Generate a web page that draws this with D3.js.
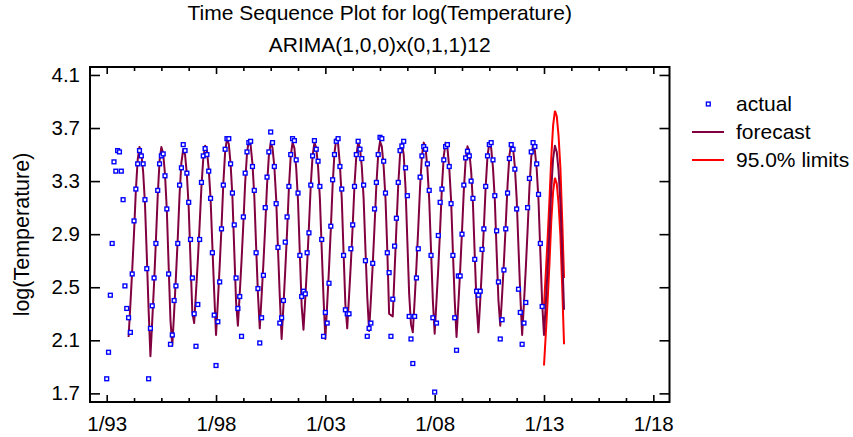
<!DOCTYPE html>
<html>
<head>
<meta charset="utf-8">
<script src="https://cdn.jsdelivr.net/npm/d3@7"></script>
<style>
  body { margin: 0; background: #fff; }
  svg { display: block; font-family: Arial, "Liberation Sans", sans-serif; }
</style>
</head>
<body>
<div id="chart"></div>
<script>
// monthly series, first month = 1/93
const startYear = 1993;

// actual log(Temperature), 1/93 .. 12/12
const actual = [
  1.81, 2.01, 2.44, 2.83, 3.445, 3.375, 3.53, 3.52, 3.375, 3.16, 2.51, 2.34,
  2.27, 2.16, 2.60, 3.00, 3.24, 3.43, 3.53, 3.49, 3.43, 3.16, 2.64, 1.81,
  2.19, 2.36, 2.57, 2.83, 3.23, 3.43, 3.49, 3.505, 3.34, 3.09, 2.60, 2.07,
  2.14, 2.40, 2.51, 2.83, 3.27, 3.40, 3.575, 3.53, 3.36, 3.14, 2.86, 2.57,
  2.30, 2.055, 2.37, 2.86, 3.29, 3.49, 3.545, 3.50, 3.375, 3.17, 2.76, 2.29,
  1.91, 2.24, 2.54, 2.94, 3.27, 3.54, 3.62, 3.62, 3.43, 3.21, 2.97, 2.57,
  2.34, 2.43, 2.13, 3.03, 3.36, 3.52, 3.59, 3.60, 3.41, 3.23, 2.76, 2.49,
  2.08, 2.27, 2.59, 3.10, 3.33, 3.52, 3.67, 3.59, 3.41, 3.13, 2.80, 2.23,
  2.27, 2.40, 2.84, 3.03, 3.26, 3.50, 3.62, 3.605, 3.46, 3.21, 2.74, 2.43,
  2.47, 2.45, 2.76, 2.91, 3.27, 3.49, 3.605, 3.54, 3.45, 3.26, 2.86, 2.13,
  2.31, 2.23, 2.53, 2.96, 3.31, 3.50, 3.60, 3.62, 3.41, 3.24, 2.74, 2.33,
  2.30, 2.30, 2.79, 2.97, 3.26, 3.50, 3.60, 3.54, 3.47, 3.27, 2.70, 2.13,
  2.19, 2.23, 2.68, 3.09, 3.29, 3.50, 3.63, 3.62, 3.45, 3.21, 2.76, 2.61,
  2.13, 2.41, 2.81, 3.02, 3.29, 3.53, 3.565, 3.60, 3.40, 3.19, 2.28, 2.11,
  1.925, 2.28, 2.57, 2.79, 3.33, 3.49, 3.56, 3.54, 3.43, 3.23, 2.74, 2.27,
  1.71, 2.23, 2.89, 3.14, 3.24, 3.46, 3.56, 3.575, 3.41, 3.13, 2.74, 2.27,
  2.025, 2.585, 2.585, 2.90, 3.27, 3.475, 3.525, 3.49, 3.30, 3.17, 2.71, 2.47,
  2.44, 2.47, 2.785, 2.94, 3.26, 3.49, 3.575, 3.59, 3.46, 3.19, 2.925, 2.54,
  2.11, 2.255, 2.63, 2.94, 3.21, 3.47, 3.575, 3.54, 3.39, 3.09, 2.485, 2.31,
  2.07, 2.23, 2.385, 3.10, 3.32, 3.52, 3.59, 3.56, 3.43, 3.20, 2.83, 2.355
];

// forecast, starting at month index 12 (1/94) through 12/13
const forecastStart = 12;
const forecast = [
  2.125, 2.37, 2.63, 2.91, 3.23, 3.46, 3.557, 3.51, 3.37, 3.13, 2.74, 2.33,
  1.98, 2.25, 2.53, 2.85, 3.19, 3.45, 3.557, 3.51, 3.35, 3.08, 2.66, 2.25,
  2.06, 2.31, 2.58, 2.87, 3.20, 3.44, 3.54, 3.50, 3.35, 3.10, 2.70, 2.31,
  2.23, 2.46, 2.70, 2.97, 3.26, 3.47, 3.567, 3.53, 3.39, 3.17, 2.81, 2.46,
  2.14, 2.39, 2.66, 2.95, 3.28, 3.52, 3.62, 3.58, 3.43, 3.18, 2.78, 2.39,
  2.21, 2.45, 2.70, 2.98, 3.29, 3.51, 3.61, 3.57, 3.43, 3.19, 2.81, 2.45,
  2.19, 2.43, 2.68, 2.96, 3.27, 3.49, 3.59, 3.55, 3.41, 3.17, 2.79, 2.43,
  2.11, 2.36, 2.63, 2.92, 3.25, 3.49, 3.59, 3.55, 3.40, 3.15, 2.75, 2.36,
  2.18, 2.42, 2.67, 2.96, 3.27, 3.49, 3.59, 3.55, 3.41, 3.17, 2.79, 2.42,
  2.11, 2.37, 2.64, 2.94, 3.27, 3.51, 3.62, 3.58, 3.42, 3.17, 2.76, 2.37,
  2.19, 2.43, 2.68, 2.96, 3.27, 3.49, 3.59, 3.55, 3.41, 3.17, 2.79, 2.43,
  2.17, 2.41, 2.67, 2.96, 3.27, 3.50, 3.60, 3.56, 3.41, 3.17, 2.78, 2.30,
  2.29, 2.28, 2.62, 2.95, 3.27, 3.50, 3.59, 3.50, 3.25, 2.85, 2.45, 2.22,
  2.16, 2.40, 2.66, 2.95, 3.26, 3.49, 3.59, 3.55, 3.40, 3.16, 2.78, 2.40,
  2.15, 2.40, 2.65, 2.94, 3.26, 3.49, 3.59, 3.55, 3.40, 3.16, 2.77, 2.40,
  2.125, 2.37, 2.63, 2.92, 3.23, 3.46, 3.5625, 3.52, 3.38, 3.13, 2.74, 2.37,
  2.16, 2.40, 2.66, 2.95, 3.26, 3.49, 3.5875, 3.55, 3.40, 3.16, 2.77, 2.40,
  2.21, 2.44, 2.69, 2.97, 3.27, 3.49, 3.5875, 3.55, 3.41, 3.17, 2.80, 2.44,
  2.14, 2.38, 2.64, 2.93, 3.25, 3.48, 3.575, 3.53, 3.39, 3.15, 2.76, 2.38,
  2.14, 2.38, 2.64, 2.93, 3.24, 3.47, 3.567, 3.52, 3.38, 3.14, 2.75, 2.33
];

// 95% limits for the 12 months ahead (1/13 .. 12/13)
const limitStart = 240;
const upper = [2.36, 2.61, 2.87, 3.16, 3.48, 3.72, 3.83, 3.79, 3.64, 3.40, 3.01, 2.57];
const lower = [1.91, 2.15, 2.40, 2.68, 3.00, 3.22, 3.325, 3.28, 3.13, 2.89, 2.50, 2.07];

const xTicks = [1993, 1998, 2003, 2008, 2013, 2018];
const xMinor = [1994.25, 1995.5, 1996.75, 1999.25, 2000.5, 2001.75, 2004.25, 2005.5, 2006.75,
                2009.25, 2010.5, 2011.75, 2014.25, 2015.5, 2016.75];
const yTicks = [1.7, 2.1, 2.5, 2.9, 3.3, 3.7, 4.1];

const legendItems = ["actual", "forecast", "95.0% limits"];

const width = 853, height = 437;
const margin = { top: 67, right: 183.5, bottom: 35, left: 90 };
const pw = width - margin.left - margin.right,
      ph = height - margin.top - margin.bottom;

const svg = d3.select("#chart").append("svg")
    .attr("width", width)
    .attr("height", height);

const g = svg.append("g")
    .attr("transform", `translate(${margin.left},${margin.top})`);

const x = d3.scaleLinear().domain([1992.236, 2018.74]).range([0, pw]);
const y = d3.scaleLinear().domain([1.635, 4.16]).range([ph, 0]);

const t = i => startYear + i / 12;

// titles
svg.append("text")
    .attr("x", margin.left + pw / 2).attr("y", 20)
    .attr("text-anchor", "middle").attr("font-size", 21)
    .text("Time Sequence Plot for log(Temperature)");
svg.append("text")
    .attr("x", margin.left + pw / 2).attr("y", 52)
    .attr("text-anchor", "middle").attr("font-size", 21)
    .text("ARIMA(1,0,0)x(0,1,1)12");

// y label
svg.append("text")
    .attr("transform", `translate(29,${margin.top + ph / 2}) rotate(-90)`)
    .attr("text-anchor", "middle").attr("font-size", 21.5)
    .text("log(Temperature)");

// axes: ticks point inward
const fmtX = d => "1/" + String(d).slice(2);

g.append("g").attr("class", "ax")
    .attr("transform", `translate(0,${ph})`)
    .call(d3.axisBottom(x).tickValues(xTicks).tickSize(-7).tickPadding(14).tickFormat(fmtX));
g.append("g").attr("class", "ax")
    .attr("transform", `translate(0,${ph})`)
    .call(d3.axisBottom(x).tickValues(xMinor).tickSize(-4).tickFormat(""));
g.append("g").attr("class", "ax")
    .call(d3.axisTop(x).tickValues(xTicks).tickSize(-7).tickFormat(""));
g.append("g").attr("class", "ax")
    .call(d3.axisTop(x).tickValues(xMinor).tickSize(-4).tickFormat(""));
g.append("g").attr("class", "ax")
    .call(d3.axisLeft(y).tickValues(yTicks).tickSize(-10).tickPadding(10).tickFormat(d3.format(".1f")));
g.append("g").attr("class", "ax")
    .attr("transform", `translate(${pw},0)`)
    .call(d3.axisRight(y).tickValues(yTicks).tickSize(-10).tickFormat(""));

g.selectAll(".ax .domain").remove();
g.selectAll(".ax line").attr("stroke", "#000").attr("stroke-width", 1.6);
g.selectAll(".ax text").attr("font-size", 20.5).attr("fill", "#000")
    .attr("font-family", "Arial, 'Liberation Sans', sans-serif");

// frame
g.append("rect")
    .attr("width", pw).attr("height", ph)
    .attr("fill", "none").attr("stroke", "#000").attr("stroke-width", 2);

// clip plot marks to the frame
g.append("clipPath").attr("id", "clip")
  .append("rect").attr("width", pw).attr("height", ph);
const plotArea = g.append("g").attr("clip-path", "url(#clip)");

const line = d3.line()
    .x(d => x(t(d.i)))
    .y(d => y(d.v));

const fData = forecast.map((v, k) => ({ i: forecastStart + k, v }));
const uData = upper.map((v, k) => ({ i: limitStart + k, v }));
const lData = lower.map((v, k) => ({ i: limitStart + k, v }));

plotArea.append("path").datum(uData)
    .attr("fill", "none").attr("stroke", "#ff0000").attr("stroke-width", 2).attr("d", line);
plotArea.append("path").datum(lData)
    .attr("fill", "none").attr("stroke", "#ff0000").attr("stroke-width", 2).attr("d", line);

plotArea.append("path").datum(fData)
    .attr("fill", "none").attr("stroke", "#800040").attr("stroke-width", 2)
    .attr("stroke-linejoin", "round").attr("d", line);

const sq = 3.8;
plotArea.selectAll("rect.pt")
    .data(actual.map((v, i) => ({ i, v })))
    .join("rect")
    .attr("class", "pt")
    .attr("x", d => x(t(d.i)) - sq / 2)
    .attr("y", d => y(d.v) - sq / 2)
    .attr("width", sq).attr("height", sq)
    .attr("fill", "#fff").attr("stroke", "#0000ff").attr("stroke-width", 1.4);

// legend
const lg = svg.append("g").attr("transform", "translate(692,0)");
const rowY = [104, 132, 160];
lg.append("rect")
    .attr("x", 16.3 - sq / 2).attr("y", rowY[0] - sq / 2)
    .attr("width", sq).attr("height", sq)
    .attr("fill", "#fff").attr("stroke", "#0000ff").attr("stroke-width", 1.4);
lg.append("line")
    .attr("x1", 0).attr("x2", 32).attr("y1", rowY[1]).attr("y2", rowY[1])
    .attr("stroke", "#800040").attr("stroke-width", 2);
lg.append("line")
    .attr("x1", 0).attr("x2", 32).attr("y1", rowY[2]).attr("y2", rowY[2])
    .attr("stroke", "#ff0000").attr("stroke-width", 2);
lg.selectAll("text.lab")
    .data(legendItems)
    .join("text")
    .attr("class", "lab")
    .attr("x", 44)
    .attr("y", (d, i) => rowY[i] + 7)
    .attr("font-size", 21)
    .text(d => d);
</script>
</body>
</html>
